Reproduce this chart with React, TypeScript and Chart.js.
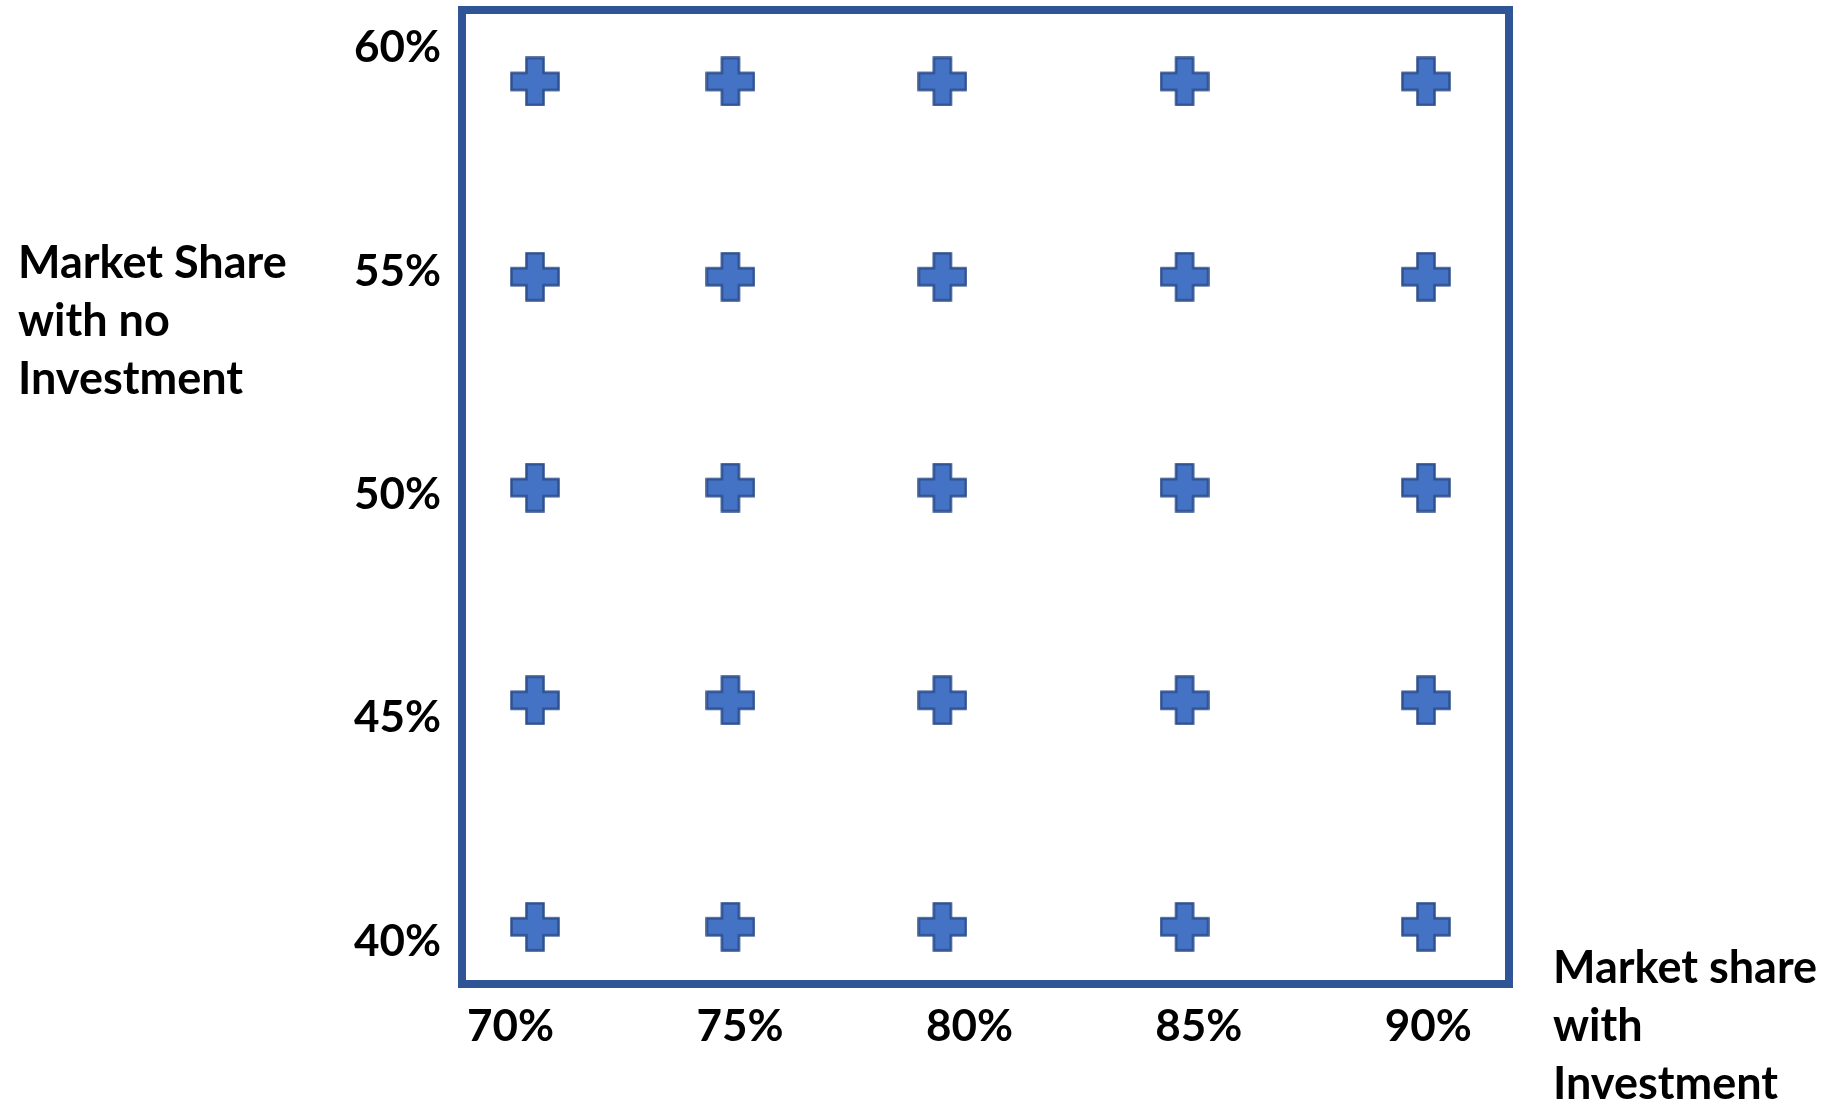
import React, { useEffect, useRef } from "react";
import { Chart, registerables } from "chart.js";

Chart.register(...registerables);

// Tick values and labels
const xTicks = [70, 75, 80, 85, 90];
const xTickLabels = ["70%", "75%", "80%", "85%", "90%"];
const yTicks = [40, 45, 50, 55, 60];
const yTickLabels = ["40%", "45%", "50%", "55%", "60%"];

// Marker positions (market share with investment / without)
const withInvestment = [70.53, 74.79, 79.41, 84.69, 89.95];
const noInvestment = [59.25, 54.88, 50.16, 45.4, 40.33];

const yTitleLines = ["Market Share", "with no", "Investment"];
const xTitleLines = ["Market share", "with", "Investment"];

const FONT = "Lato, 'Open Sans', sans-serif";

function makePlus(size: number, thick: number): HTMLCanvasElement {
  const c = document.createElement("canvas");
  c.width = size;
  c.height = size;
  const ctx = c.getContext("2d")!;
  const i = 1.5;
  const s = size - 2 * i;
  const a = (s - thick) / 2;
  const b = a + thick;
  ctx.translate(i, i);
  ctx.beginPath();
  ctx.moveTo(a, 0);
  ctx.lineTo(b, 0);
  ctx.lineTo(b, a);
  ctx.lineTo(s, a);
  ctx.lineTo(s, b);
  ctx.lineTo(b, b);
  ctx.lineTo(b, s);
  ctx.lineTo(a, s);
  ctx.lineTo(a, b);
  ctx.lineTo(0, b);
  ctx.lineTo(0, a);
  ctx.lineTo(a, a);
  ctx.closePath();
  ctx.fillStyle = "#4472C4";
  ctx.fill();
  ctx.lineWidth = 2.5;
  ctx.strokeStyle = "#2F528F";
  ctx.stroke();
  return c;
}

export default function App() {
  const ref = useRef<HTMLCanvasElement | null>(null);

  useEffect(() => {
    if (!ref.current) return;
    const plus = makePlus(50, 17);
    const points: { x: number; y: number }[] = [];
    noInvestment.forEach((y) => withInvestment.forEach((x) => points.push({ x, y })));

    const framePlugin = {
      id: "frame",
      beforeDatasetsDraw(chart: any) {
        const { ctx, chartArea } = chart;
        ctx.save();
        ctx.strokeStyle = "#2F5597";
        ctx.lineWidth = 8;
        ctx.strokeRect(chartArea.left, chartArea.top, chartArea.right - chartArea.left, chartArea.bottom - chartArea.top);
        ctx.restore();
      },
      afterDraw(chart: any) {
        const { ctx } = chart;
        ctx.save();
        ctx.fillStyle = "#000";
        ctx.font = `bold 45px ${FONT}`;
        ctx.textAlign = "left";
        ctx.textBaseline = "alphabetic";
        yTitleLines.forEach((t, i) => ctx.fillText(t, 18, 278 + i * 58));
        xTitleLines.forEach((t, i) => ctx.fillText(t, 1553, 983 + i * 58));
        ctx.restore();
      },
    };

    const chart = new Chart(ref.current, {
      type: "scatter",
      data: {
        datasets: [
          {
            data: points,
            pointStyle: plus as any,
            pointRadius: 25,
            pointHoverRadius: 25,
          },
        ],
      },
      options: {
        animation: false,
        responsive: false,
        events: [],
        layout: { autoPadding: false, padding: { left: 0, top: 10, right: 321, bottom: 0 } },
        plugins: { legend: { display: false }, tooltip: { enabled: false } },
        scales: {
          x: {
            type: "linear",
            min: 68.94,
            max: 91.76,
            grid: { display: false, drawTicks: false },
            border: { display: false },
            afterBuildTicks: (scale: any) => {
              scale.ticks = xTicks.map((v) => ({ value: v }));
            },
            afterFit: (scale: any) => {
              scale.height = 120;
              scale.paddingLeft = 0;
              scale.paddingRight = 0;
            },
            ticks: {
              padding: 16,
              color: "#000",
              font: { family: FONT, size: 44, weight: "bold" },
              maxRotation: 0,
              autoSkip: false,
              callback: (_v: any, i: number) => xTickLabels[i],
            },
          },
          y: {
            type: "linear",
            min: 39.05,
            max: 60.85,
            grid: { display: false, drawTicks: false },
            border: { display: false },
            afterBuildTicks: (scale: any) => {
              scale.ticks = yTicks.map((v) => ({ value: v }));
            },
            afterFit: (scale: any) => {
              scale.width = 462;
              scale.paddingTop = 0;
              scale.paddingBottom = 0;
            },
            ticks: {
              padding: 21,
              color: "#000",
              font: { family: FONT, size: 44, weight: "bold" },
              autoSkip: false,
              callback: (_v: any, i: number) => yTickLabels[i],
            },
          },
        },
      },
      plugins: [framePlugin],
    });
    return () => chart.destroy();
  }, []);

  return (
    <div style={{ position: "absolute", left: 0, top: 0, width: 1830, height: 1104, background: "#fff" }}>
      <canvas ref={ref} width={1830} height={1104} style={{ display: "block" }} />
    </div>
  );
}
